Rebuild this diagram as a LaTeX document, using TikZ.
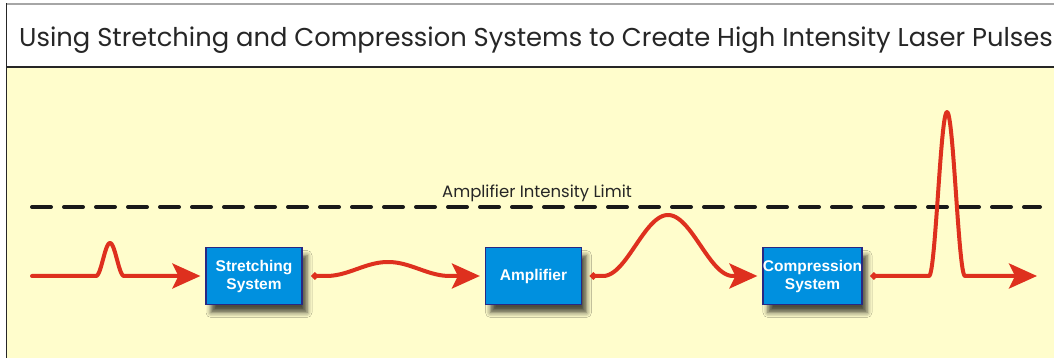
\documentclass[tikz,border=0pt]{standalone}
\usepackage{fontspec}
\setsansfont{Liberation Sans}
\newfontfamily\headfont{Poppins}
\usepackage{tikz}
\usetikzlibrary{positioning}
\usetikzlibrary{arrows.meta}
\usetikzlibrary{shadows.blur}

\definecolor{paper}{RGB}{255,253,204}
\definecolor{boxblue}{RGB}{0,144,223}
\definecolor{boxedge}{RGB}{40,40,130}
\definecolor{pulsered}{RGB}{222,48,30}

\tikzset{
  pulsehead/.tip={Stealth[length=28pt,width=25pt,inset=6pt]},
  stage/.style={draw=boxedge, line width=1.2pt, fill=boxblue, text=white,
    minimum width=96pt, minimum height=57pt, inner sep=0pt, align=center,
    font=\sffamily\bfseries\fontsize{15.5}{18}\selectfont,
    blur shadow={shadow xshift=5pt, shadow yshift=-8pt,
      shadow blur radius=5pt, shadow opacity=70}},
  beam/.style={draw=pulsered, line width=4pt, line cap=round, line join=round},
  limit/.style={line width=4pt, line cap=round, dash pattern=on 19pt off 13pt, black!90},
  % raised cosine pulse: centre, half width, height
  pulse/.style n args={3}{insert path={-- plot[domain={#1-#2}:{#1+#2}, samples=60]
    (\x, {82+#3*(0.5+0.5*cos(180*(\x-#1)/#2))})}}
}

\begin{document}
\begin{tikzpicture}[x=1pt,y=1pt]
\useasboundingbox (0,0) rectangle (1054,358);

% frame and title bar
\fill[paper] (6.5,0) rectangle (1054,291);
\draw[black!35, line width=1.2pt] (6.5,354) -- (1054,354);
\draw[black!85, line width=1.2pt] (6.5,0) -- (6.5,354.6);
\draw[black!85, line width=1.2pt] (6.5,291) -- (1054,291);
\node[anchor=base west, inner sep=0pt, text=black!85, font=\headfont\fontsize{25.8}{25.8}\selectfont]
  (title) at (19,311) {Using Stretching and Compression Systems to Create High Intensity Laser Pulses};

% intensity limit
\draw[limit] (32,151) -- (1040,151);
\node[anchor=base, inner sep=0pt, text=black!85, font=\headfont\fontsize{16.5}{16.5}\selectfont]
  (limitlabel) at (537,160) {Amplifier Intensity Limit};

% stages
\coordinate (laser) at (32,82);
\coordinate (output) at (1037,82);
\node[stage] (stretcher) at (254,82) {Stretching\\System};
\node[stage] (amplifier) at (533.5,82) {Amplifier};
\node[stage] (compressor) at (812.5,82) {Compression\\System};

% pulses between the stages
\draw[beam, -pulsehead, shorten >=5pt]
  (laser) [pulse={110}{14}{33}] -- (stretcher.west);
\draw[beam, {Circle[length=6.5pt]}-pulsehead, shorten <=9pt, shorten >=5pt]
  (stretcher.east) [pulse={388}{62}{14}] -- (amplifier.west);
\draw[beam, {Circle[length=6.5pt]}-pulsehead, shorten <=8pt, shorten >=5pt]
  (amplifier.east) [pulse={668}{65}{61}] -- (compressor.west);
\draw[beam, {Circle[length=6.5pt]}-pulsehead, shorten <=8pt]
  (compressor.east) [pulse={947}{18}{164}] -- (output);

\end{tikzpicture}
\end{document}
